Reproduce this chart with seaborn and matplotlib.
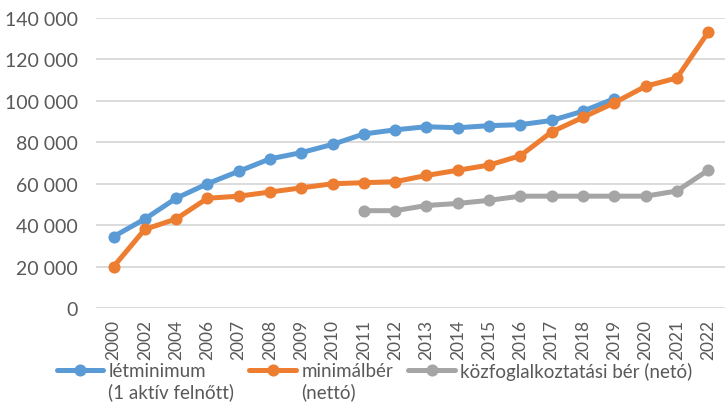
import numpy as np
import pandas as pd
import seaborn as sns
from matplotlib import pyplot as plt
from matplotlib.ticker import FuncFormatter

# adatok
evek = ['2000', '2002', '2004', '2006', '2007', '2008', '2009', '2010', '2011', '2012', '2013',
        '2014', '2015', '2016', '2017', '2018', '2019', '2020', '2021', '2022']
letminimum = [34500, 43000, 53000, 60000, 66000, 72000, 75000, 79000, 84000, 86000, 87500,
              87000, 88000, 88500, 90500, 95000, 101000, None, None, None]
minimalber = [20000, 38000, 43000, 53000, 54000, 56000, 58000, 60000, 60500, 61000, 64000,
              66500, 69000, 73500, 85000, 92000, 99000, 107000, 111000, 133000]
kozfoglalkoztatasi = [None, None, None, None, None, None, None, None, 47000, 47000, 49500,
                      50500, 52000, 54000, 54000, 54000, 54000, 54000, 56500, 66500]

sorozatok = ['létminimum\n(1 aktív felnőtt)', 'minimálbér\n(nettó)', 'közfoglalkoztatási bér (netó)']
szinek = ['#5B9BD5', '#ED7D31', '#A5A5A5']

rows = []
for nev, ertekek in zip(sorozatok, [letminimum, minimalber, kozfoglalkoztatasi]):
    for ev, v in zip(evek, ertekek):
        if v is not None:
            rows.append({'ev': ev, 'ertek': v, 'sorozat': nev})
df = pd.DataFrame(rows)

sns.set_style('white')
plt.rcParams['font.family'] = ['Lato', 'DejaVu Sans']

fig = plt.figure(figsize=(7.25, 4.1), dpi=100)
ax = fig.add_axes([0.132, 0.246, 0.868, 0.708])

sns.lineplot(data=df, x='ev', y='ertek', hue='sorozat', hue_order=sorozatok,
             palette=szinek, marker='o', markersize=8.7, markeredgewidth=0,
             linewidth=3.6, sort=False, ax=ax)

ax.set_ylim(0, 140000)
ax.set_yticks(range(0, 140001, 20000))
ax.yaxis.set_major_formatter(FuncFormatter(lambda v, p: f'{int(v):,}'.replace(',', ' ')))
ax.set_xlim(-0.57, len(evek) - 1 + 0.54)
ax.grid(axis='y', color='#D9D9D9', linewidth=1.3)
ax.set_axisbelow(True)
for s in ax.spines.values():
    s.set_visible(False)
ax.tick_params(axis='both', length=0, colors='#595959')
ax.tick_params(axis='x', rotation=90, labelsize=12.5, pad=8)
ax.tick_params(axis='y', labelsize=14, pad=13)
ax.set_xlabel('')
ax.set_ylabel('')

handles, labels = ax.get_legend_handles_labels()
ax.legend_.remove()
leg = fig.legend(handles, labels, loc='upper left', bbox_to_anchor=(0.078, 0.115), ncol=3,
                 frameon=False, fontsize=13.5, labelcolor='#595959', handlelength=2.5,
                 handleheight=1.2, handletextpad=0.27, columnspacing=0.8,
                 borderaxespad=0, borderpad=0)
# jelölő a címke első sorához igazítva
leg._legend_handle_box.align = 'top'
for col in leg._legend_handle_box.get_children():
    for item in col.get_children():
        item.align = 'top'

fig.savefig('out.png', dpi=100)
